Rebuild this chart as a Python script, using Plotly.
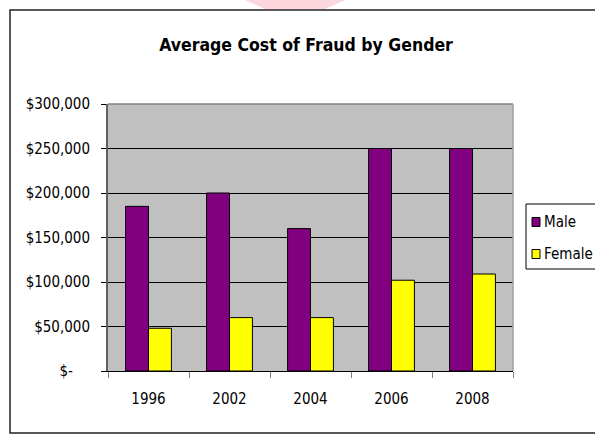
import plotly.graph_objects as go

years = ["1996", "2002", "2004", "2006", "2008"]
male = [185000, 200000, 160000, 250000, 250000]
female = [48000, 60000, 60000, 102000, 109000]
series_names = ["Male", "Female"]
series_colors = ["#800080", "#FFFF00"]
ytick_vals = [0, 50000, 100000, 150000, 200000, 250000, 300000]
ytick_text = ["$-\u00a0\u00a0\u00a0\u00a0", "$50,000", "$100,000", "$150,000",
              "$200,000", "$250,000", "$300,000"]

FONT = "DejaVu Sans Condensed, Liberation Sans Narrow, Arial Narrow, Liberation Sans, sans-serif"

W, H = 595, 434
PL, PR, PT, PB = 108, 513, 104, 371  # plot area in pixels


def fx(x):
    return x / W


def fy(y):
    return 1 - y / H


fig = go.Figure()
for name, vals, col in zip(series_names, [male, female], series_colors):
    fig.add_trace(go.Bar(name=name, x=years, y=vals,
                         marker=dict(color=col, line=dict(color="black", width=1))))

fig.update_layout(
    width=W, height=H,
    margin=dict(l=0, r=0, t=0, b=0, autoexpand=False),
    paper_bgcolor="white",
    plot_bgcolor="#C0C0C0",
    barmode="group", bargap=0.434, bargroupgap=0,
    font=dict(family=FONT, size=14, color="black"),
    title=dict(text="<b>Average Cost of Fraud by Gender</b>",
               x=306 / W, xanchor="center", y=fy(45), yanchor="middle",
               font=dict(family=FONT, size=17.5, color="black")),
    showlegend=False,
)

fig.update_xaxes(
    domain=[fx(PL), fx(PR)], automargin=False,
    type="category", showgrid=False, tickson="boundaries",
    ticks="outside", ticklen=6, tickcolor="#808080", tickwidth=1,
    showline=True, linecolor="black", linewidth=1,
    ticklabelstandoff=14, tickfont=dict(family=FONT, size=15),
)
fig.update_yaxes(
    domain=[fy(PB), fy(PT)], automargin=False,
    range=[0, 300000], tickvals=ytick_vals, ticktext=ytick_text,
    showgrid=True, gridcolor="black", gridwidth=1,
    ticks="outside", ticklen=5, tickcolor="black",
    showline=True, linecolor="#606060", linewidth=2,
    ticklabelstandoff=8, tickfont=dict(family=FONT, size=15),
    zeroline=False,
)

# plot area top/right border
fig.add_shape(type="line", xref="paper", yref="paper", x0=fx(PL), x1=fx(PR), y0=fy(PT), y1=fy(PT),
              line=dict(color="#808080", width=1.5))
fig.add_shape(type="line", xref="paper", yref="paper", x0=fx(PR), x1=fx(PR), y0=fy(PB), y1=fy(PT),
              line=dict(color="#A0A0A0", width=1.5))
# outer chart frame
fig.add_shape(type="rect", xref="paper", yref="paper",
              x0=fx(10), x1=fx(597), y0=fy(433), y1=fy(10),
              line=dict(color="#222222", width=1.5), layer="below")
# faint pink mark at top
fig.add_shape(type="path", xref="paper", yref="paper",
              path=f"M {fx(245)} {fy(0)} L {fx(345)} {fy(0)} L {fx(325)} {fy(9)} L {fx(265)} {fy(9)} Z",
              fillcolor="#fbd6dc", line=dict(width=0), layer="below")

# legend box (drawn manually so it sits where the reference has it)
fig.add_shape(type="rect", xref="paper", yref="paper",
              x0=fx(526), x1=fx(598), y0=fy(269), y1=fy(204),
              line=dict(color="black", width=1), fillcolor="white")
leg_y = [222, 254]
for name, col, yc in zip(series_names, series_colors, leg_y):
    fig.add_shape(type="rect", xref="paper", yref="paper",
                  x0=fx(532), x1=fx(540), y0=fy(yc + 4.5), y1=fy(yc - 4.5),
                  line=dict(color="black", width=1), fillcolor=col)
    fig.add_annotation(text=name, xref="paper", yref="paper",
                       x=fx(542), y=fy(yc), xanchor="left", yanchor="middle",
                       showarrow=False, font=dict(family=FONT, size=15, color="black"))

fig.write_html("out.html", config={"displayModeBar": False},
               post_script="document.body.style.margin='0';")
